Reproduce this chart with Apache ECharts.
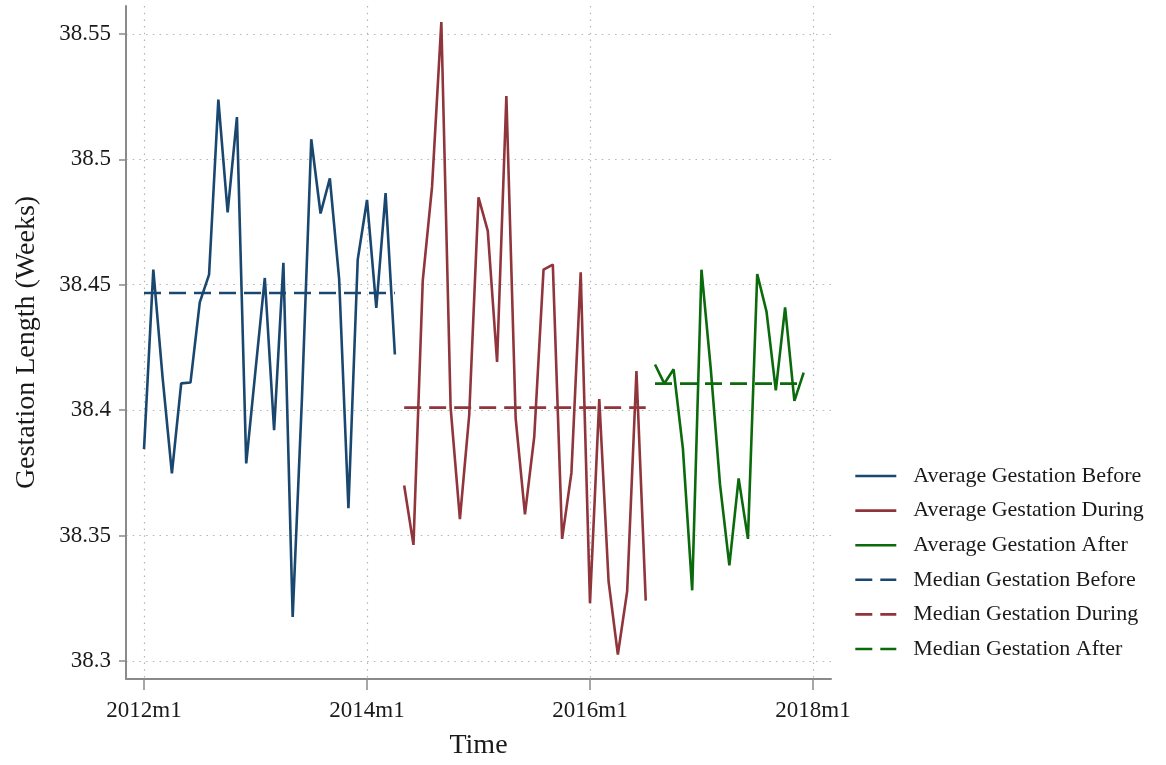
<!DOCTYPE html>
<html>
<head>
<meta charset="utf-8">
<title>Gestation Length</title>
<script src="https://cdn.jsdelivr.net/npm/echarts@6/dist/echarts.min.js"></script>
<style>
  html, body { margin: 0; padding: 0; background: #ffffff; }
  #chart { width: 1166px; height: 765px; }
</style>
</head>
<body>
<div id="chart"></div>
<script>
// Monthly average gestation length (weeks); month index 0 = 2012m1
const beforeStart = 0;    // 2012m1
const duringStart = 28;   // 2014m5
const afterStart = 55;    // 2016m8

const avgBefore = [
  38.3845, 38.456, 38.413, 38.3748, 38.4107, 38.411, 38.443, 38.454,
  38.5238, 38.4788, 38.5168, 38.3788, 38.416, 38.4527, 38.392, 38.4587,
  38.3176, 38.405, 38.508, 38.4784, 38.4924, 38.4523, 38.3609, 38.46,
  38.4838, 38.4408, 38.4865, 38.4222
];
const avgDuring = [
  38.370, 38.3463, 38.4516, 38.489, 38.5547, 38.401, 38.3566, 38.398,
  38.4848, 38.4715, 38.4192, 38.5252, 38.3967, 38.3585, 38.3894, 38.456,
  38.458, 38.3487, 38.375, 38.455, 38.3231, 38.4044, 38.3318, 38.3026,
  38.3278, 38.4156, 38.3241
];
const avgAfter = [
  38.4182, 38.4106, 38.4163, 38.3847, 38.3282, 38.456, 38.4165, 38.3702,
  38.3381, 38.3728, 38.3487, 38.4543, 38.4393, 38.4079, 38.441, 38.4037,
  38.415
];

const medianBefore = 38.4467;
const medianDuring = 38.401;
const medianAfter = 38.4106;

const xTickMonths = [0, 24, 48, 72];
const xTickLabels = ['2012m1', '2014m1', '2016m1', '2018m1'];
const yTicks = [38.3, 38.35, 38.4, 38.45, 38.5, 38.55];

const seriesNames = [
  'Average Gestation Before', 'Average Gestation During', 'Average Gestation After',
  'Median Gestation Before', 'Median Gestation During', 'Median Gestation After'
];

const FONT = '"Liberation Serif", "Times New Roman", serif';
const C_BEFORE = '#1a476f';
const C_DURING = '#90353b';
const C_AFTER = '#0b6a0b';
const seriesColors = [C_BEFORE, C_DURING, C_AFTER, C_BEFORE, C_DURING, C_AFTER];
const LINE_W = 2.6;
const DASH = [17, 8];

function toPoints(start, values) {
  return values.map((v, i) => [start + i, v]);
}
function medianPoints(start, count, value) {
  return [[start, value], [start + count - 1, value]];
}
function lineSeries(name, data, color, dashed) {
  return {
    name: name,
    type: 'line',
    data: data,
    symbol: 'none',
    showSymbol: false,
    animation: false,
    z: dashed ? 3 : 2,
    itemStyle: { color: color },
    lineStyle: { color: color, width: LINE_W, type: dashed ? DASH : 'solid' },
    emphasis: { disabled: true }
  };
}

const gridDots = { show: true, lineStyle: { color: '#b4b4b4', width: 1.2, type: [1.5, 5.2] } };

const chart = echarts.init(document.getElementById('chart'), null, { renderer: 'canvas' });
chart.setOption({
  backgroundColor: '#ffffff',
  animation: false,
  textStyle: { fontFamily: FONT },
  grid: { left: 126, top: 6, right: 335, bottom: 84, containLabel: false },
  xAxis: {
    type: 'value',
    min: -1.94,
    max: 73.94,
    name: 'Time',
    nameLocation: 'middle',
    nameGap: 53,
    nameTextStyle: { fontFamily: FONT, fontSize: 28, color: '#1a1a1a' },
    axisLine: { show: true, onZero: false, lineStyle: { color: '#8a8a8a', width: 2 } },
    axisTick: { show: true, length: 11, lineStyle: { color: '#8a8a8a', width: 1.5 }, customValues: xTickMonths },
    axisLabel: {
      customValues: xTickMonths,
      margin: 20,
      fontFamily: FONT, fontSize: 23, color: '#1a1a1a',
      formatter: v => xTickLabels[xTickMonths.indexOf(Math.round(v))]
    },
    splitLine: gridDots
  },
  yAxis: {
    type: 'value',
    min: 38.29285,
    max: 38.5611,
    name: 'Gestation Length (Weeks)',
    nameLocation: 'middle',
    nameGap: 85,
    nameTextStyle: { fontFamily: FONT, fontSize: 28, color: '#1a1a1a' },
    axisLine: { show: true, onZero: false, lineStyle: { color: '#8a8a8a', width: 2 } },
    axisTick: { show: true, length: 7, lineStyle: { color: '#8a8a8a', width: 1.5 }, customValues: yTicks },
    axisLabel: {
      customValues: yTicks,
      margin: 15,
      fontFamily: FONT, fontSize: 23, color: '#1a1a1a',
      formatter: v => String(+v.toFixed(2))
    },
    splitLine: gridDots
  },
  legend: {
    orient: 'vertical',
    left: 849,
    top: 460,
    itemWidth: 41,
    itemHeight: 14,
    itemGap: 12.6,
    selectedMode: false,
    itemStyle: { opacity: 0 },
    data: seriesNames.map((name, i) => ({
      name: name,
      itemStyle: { opacity: 0 },
      lineStyle: { color: seriesColors[i], width: LINE_W, type: i >= 3 ? DASH : 'solid' }
    })),
    textStyle: { fontFamily: FONT, fontSize: 22, color: '#1a1a1a', lineHeight: 20, padding: [0, 0, 0, 12] }
  },
  series: [
    lineSeries(seriesNames[0], toPoints(beforeStart, avgBefore), C_BEFORE, false),
    lineSeries(seriesNames[1], toPoints(duringStart, avgDuring), C_DURING, false),
    lineSeries(seriesNames[2], toPoints(afterStart, avgAfter), C_AFTER, false),
    lineSeries(seriesNames[3], medianPoints(beforeStart, avgBefore.length, medianBefore), C_BEFORE, true),
    lineSeries(seriesNames[4], medianPoints(duringStart, avgDuring.length, medianDuring), C_DURING, true),
    lineSeries(seriesNames[5], medianPoints(afterStart, avgAfter.length, medianAfter), C_AFTER, true)
  ]
});
</script>
</body>
</html>
